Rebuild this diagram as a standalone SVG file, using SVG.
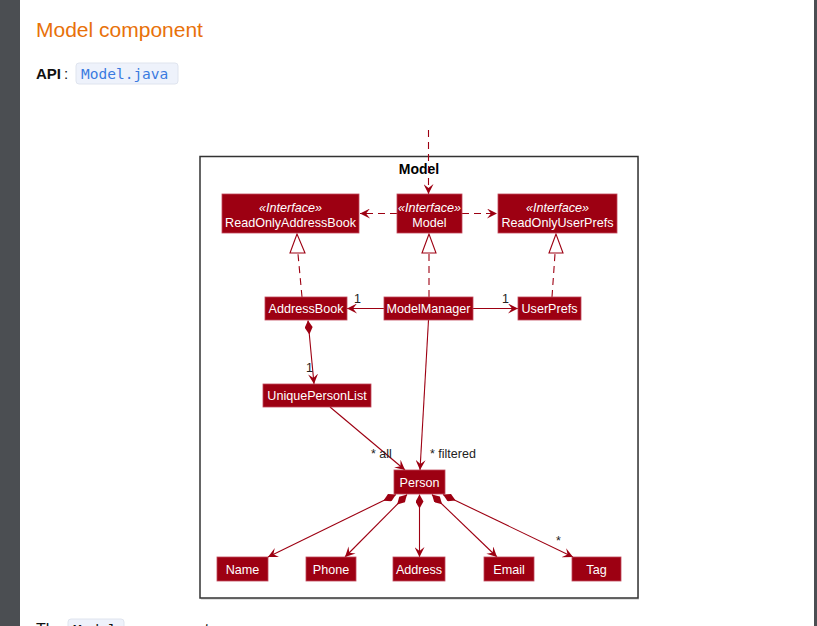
<svg xmlns="http://www.w3.org/2000/svg" width="817" height="626" viewBox="0 0 817 626">
<style>
.node rect{fill:#9D0012;stroke:#c0485a;stroke-width:0.8}
.node text{fill:#ffffff;font-family:"Liberation Sans",Arial,sans-serif;font-size:12.6px;text-anchor:middle}
.node text.st{font-style:italic}
.ln{fill:none;stroke:#9D0012;stroke-width:1.1}
.dash{stroke-dasharray:7,5}
.lbl{fill:#222;font-family:"Liberation Sans",Arial,sans-serif;font-size:12.5px}
</style>
<defs>
<marker id="arr" viewBox="0 0 10 10" refX="10" refY="5" markerWidth="10" markerHeight="10" markerUnits="userSpaceOnUse" orient="auto">
<path d="M0,0 L10,5 L0,10 L4,5 Z" fill="#9D0012"/>
</marker>
<marker id="dia" viewBox="0 0 14 8" refX="0" refY="4" markerWidth="14" markerHeight="8" markerUnits="userSpaceOnUse" orient="auto">
<path d="M0,4 L7,0 L14,4 L7,8 Z" fill="#9D0012"/>
</marker>
</defs>
<rect x="0" y="0" width="817" height="626" fill="#ffffff"/>
<rect x="0" y="0" width="20" height="626" fill="#4b4e52"/>
<rect x="814" y="0" width="3" height="626" fill="#4b4e52"/>
<text x="36" y="37" font-family="Liberation Sans,Arial,sans-serif" font-size="21" fill="#e8710a">Model component</text>
<text x="36" y="79" font-family="Liberation Sans,Arial,sans-serif" font-size="15" font-weight="bold" fill="#111">API</text>
<text x="64" y="79" font-family="Liberation Sans,Arial,sans-serif" font-size="15" fill="#111">:</text>
<rect x="76" y="63" width="102" height="21" rx="3" fill="#eef2fb" stroke="#dfe4ee"/>
<text x="81" y="79" font-family="DejaVu Sans Mono,monospace" font-size="14.5" fill="#3a7be0">Model.java</text>
<text x="36" y="635" font-family="Liberation Sans,Arial,sans-serif" font-size="16" fill="#111">The</text>
<rect x="68" y="619" width="56" height="20" rx="3" fill="#eef2fb" stroke="#dfe4ee"/>
<text x="73" y="635" font-family="DejaVu Sans Mono,monospace" font-size="14.5" fill="#111">Model</text>
<text x="130" y="635" font-family="Liberation Sans,Arial,sans-serif" font-size="16" fill="#111">component</text>

<g id="frame">
<rect x="201" y="158" width="438" height="442" fill="#cccccc" opacity="0.6"/>
<rect x="200" y="156.5" width="438" height="441.5" fill="#ffffff" stroke="#333333" stroke-width="1.5"/>
<text x="419" y="174" font-family="Liberation Sans,Arial,sans-serif" font-size="14" font-weight="bold" text-anchor="middle" fill="#000">Model</text>
</g>

<g id="connectors">
<path class="ln dash" d="M428.5,130 L428.5,194" marker-end="url(#arr)"/>
<path class="ln dash" d="M397,213.5 L360,213.5" marker-end="url(#arr)"/>
<path class="ln dash" d="M462,213.5 L497,213.5" marker-end="url(#arr)"/>
<path class="ln dash" d="M302,297 L298,254"/>
<polygon points="297,234 290,253 305,253" fill="#ffffff" stroke="#9D0012" stroke-width="1.1"/>
<path class="ln dash" d="M429,297 L429,254"/>
<polygon points="429,234 422,253 436,253" fill="#ffffff" stroke="#9D0012" stroke-width="1.1"/>
<path class="ln dash" d="M552,297 L555,254"/>
<polygon points="556,234 549,253 563,253" fill="#ffffff" stroke="#9D0012" stroke-width="1.1"/>
<path class="ln" d="M384,308.5 L347,308.5" marker-end="url(#arr)"/>
<path class="ln" d="M473,308.5 L518,308.5" marker-end="url(#arr)"/>
<path class="ln" d="M308,320.5 L314,384" marker-start="url(#dia)" marker-end="url(#arr)"/>
<path class="ln" d="M428.5,320 L420,470" marker-end="url(#arr)"/>
<path class="ln" d="M330,407 L405,470" marker-end="url(#arr)"/>
<path class="ln" d="M396,494.5 L268,557" marker-start="url(#dia)" marker-end="url(#arr)"/>
<path class="ln" d="M407,494.5 L345,557" marker-start="url(#dia)" marker-end="url(#arr)"/>
<path class="ln" d="M419.5,494.5 L419.5,557" marker-start="url(#dia)" marker-end="url(#arr)"/>
<path class="ln" d="M432,494.5 L497,557" marker-start="url(#dia)" marker-end="url(#arr)"/>
<path class="ln" d="M443,494.5 L573,557" marker-start="url(#dia)" marker-end="url(#arr)"/>
<text class="lbl" x="354" y="303">1</text>
<text class="lbl" x="502" y="303">1</text>
<text class="lbl" x="306" y="372">1</text>
<text class="lbl" x="371" y="458">* all</text>
<text class="lbl" x="430" y="458">* filtered</text>
<text class="lbl" x="556" y="545">*</text>
</g>

<g id="ReadOnlyAddressBook" class="node"><rect x="222" y="194" width="137" height="39"/><text class="st" x="290.5" y="212">«Interface»</text><text x="290.5" y="227">ReadOnlyAddressBook</text></g>
<g id="Model" class="node"><rect x="397" y="194" width="65" height="39"/><text class="st" x="429.5" y="212">«Interface»</text><text x="429.5" y="227">Model</text></g>
<g id="ReadOnlyUserPrefs" class="node"><rect x="498" y="194" width="119" height="39"/><text class="st" x="557.5" y="212">«Interface»</text><text x="557.5" y="227">ReadOnlyUserPrefs</text></g>
<g id="AddressBook" class="node"><rect x="265" y="297" width="82" height="23"/><text x="306" y="313">AddressBook</text></g>
<g id="ModelManager" class="node"><rect x="384" y="297" width="89" height="23"/><text x="428.5" y="313">ModelManager</text></g>
<g id="UserPrefs" class="node"><rect x="518" y="297" width="63" height="23"/><text x="549.5" y="313">UserPrefs</text></g>
<g id="UniquePersonList" class="node"><rect x="263" y="384" width="108" height="23"/><text x="317" y="400">UniquePersonList</text></g>
<g id="Person" class="node"><rect x="394" y="470" width="51" height="24"/><text x="419.5" y="487">Person</text></g>
<g id="Name" class="node"><rect x="217" y="557" width="51" height="24"/><text x="242.5" y="574">Name</text></g>
<g id="Phone" class="node"><rect x="306" y="557" width="50" height="24"/><text x="331" y="574">Phone</text></g>
<g id="Address" class="node"><rect x="393" y="557" width="52" height="24"/><text x="419" y="574">Address</text></g>
<g id="Email" class="node"><rect x="484" y="557" width="50" height="24"/><text x="509" y="574">Email</text></g>
<g id="Tag" class="node"><rect x="572" y="557" width="49" height="24"/><text x="596.5" y="574">Tag</text></g>
</svg>
